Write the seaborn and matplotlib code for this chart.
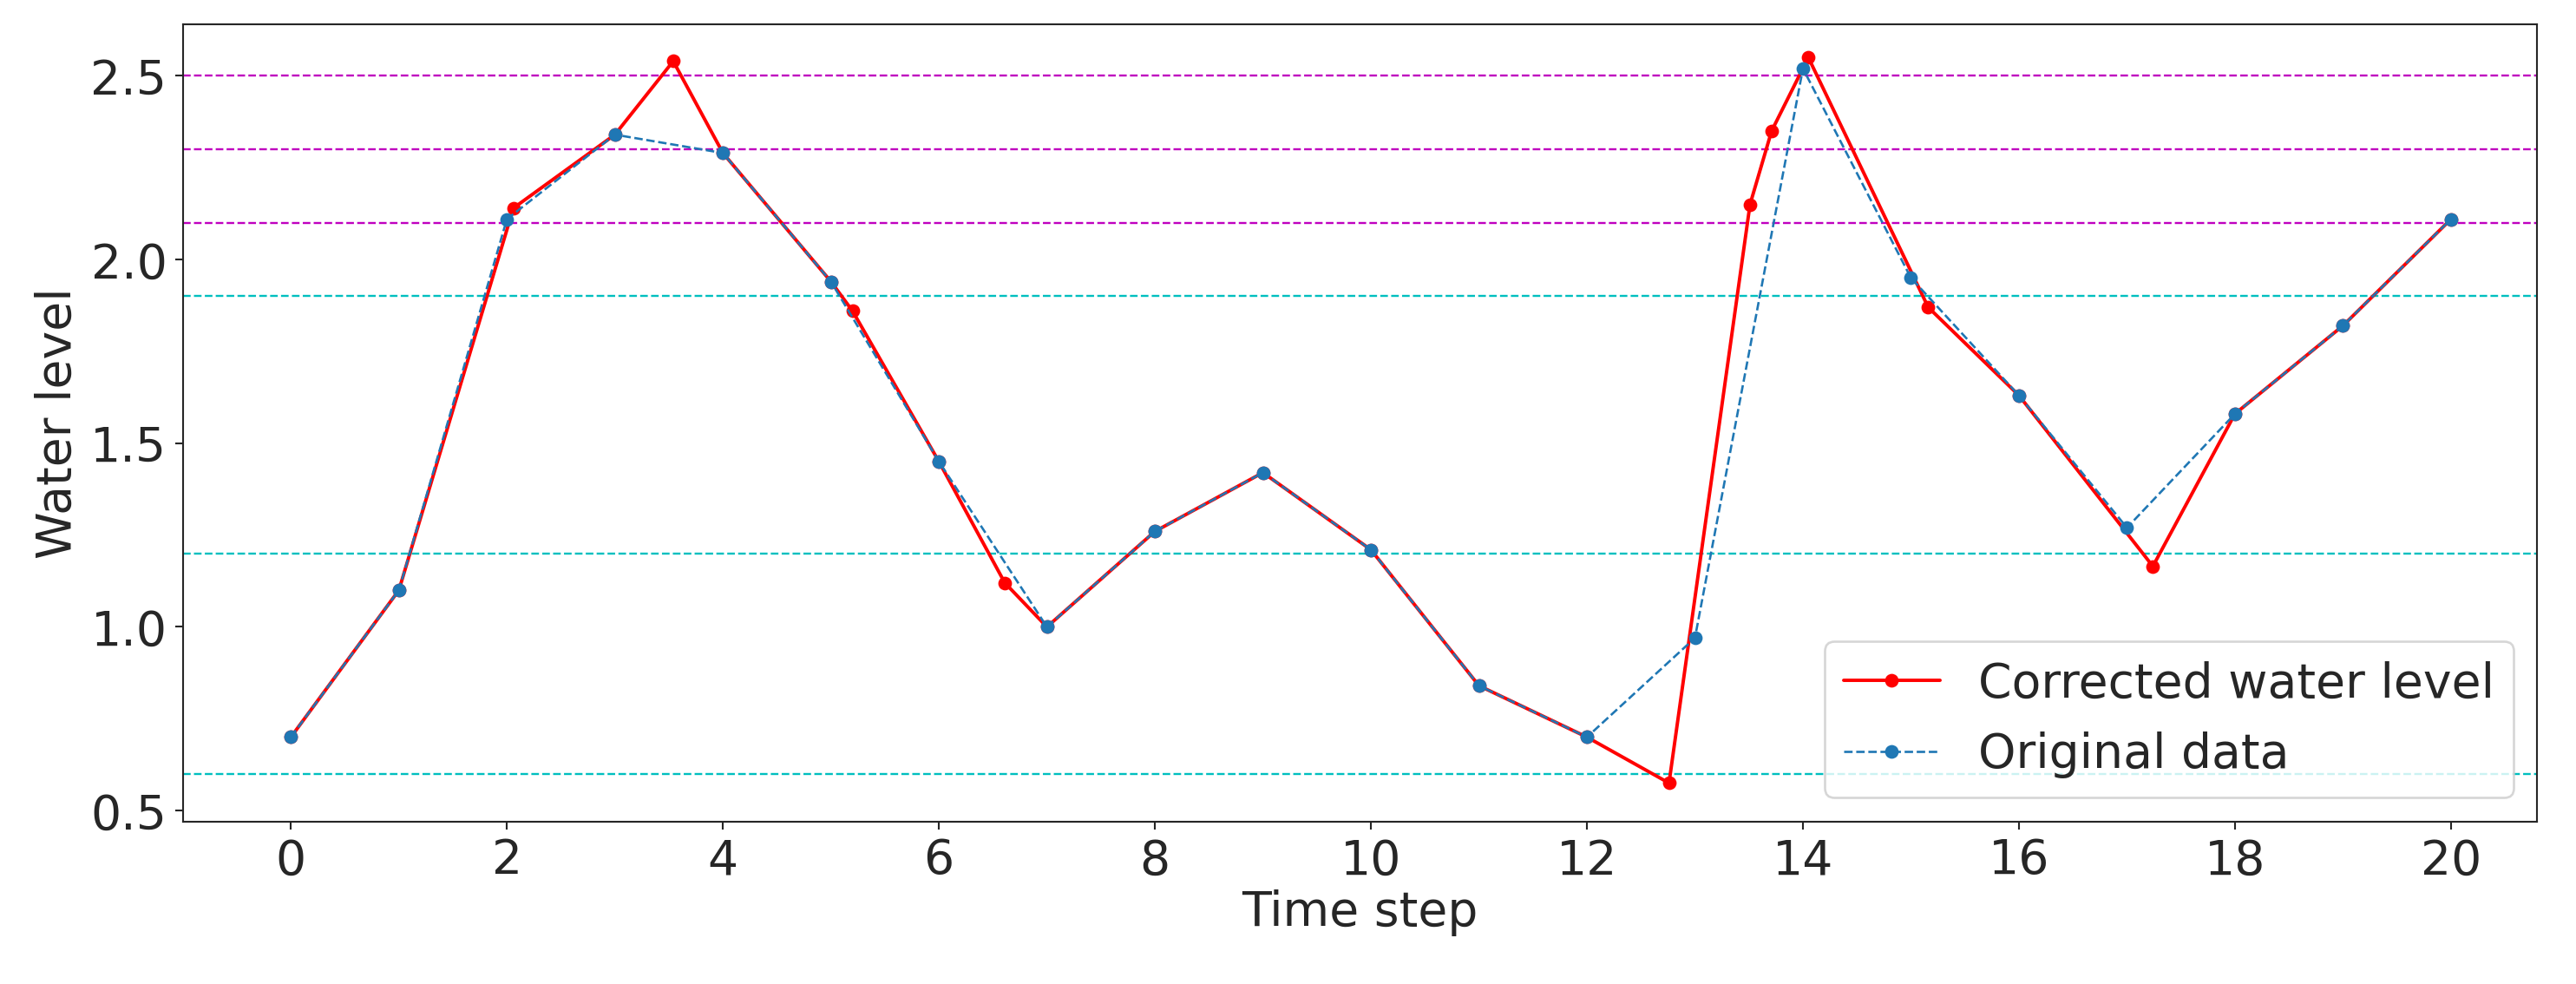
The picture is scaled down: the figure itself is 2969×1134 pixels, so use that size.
import matplotlib
matplotlib.use("Agg")
import matplotlib.pyplot as plt
import seaborn as sns
import pandas as pd

orig_x = list(range(21))
orig_y = [0.70, 1.10, 2.11, 2.34, 2.29, 1.94, 1.45, 1.00, 1.26, 1.42, 1.21,
          0.84, 0.70, 0.97, 2.52, 1.95, 1.63, 1.27, 1.58, 1.82, 2.11]
corr_x = [0, 1, 2.06, 3, 3.54, 4, 5, 5.2, 6, 6.61, 7, 8, 9, 10, 11, 12,
          12.76, 13.51, 13.71, 14.05, 15.16, 16, 17.24, 18, 19, 20]
corr_y = [0.70, 1.10, 2.14, 2.34, 2.54, 2.29, 1.94, 1.86, 1.45, 1.12, 1.00,
          1.26, 1.42, 1.21, 0.84, 0.70, 0.575, 2.15, 2.35, 2.55, 1.87, 1.63,
          1.165, 1.58, 1.82, 2.11]
magenta_levels = [2.5, 2.3, 2.1]
cyan_levels = [1.9, 1.2, 0.6]

sns.set_style("ticks")
plt.rcParams['font.family'] = ['DejaVu Sans']
fig, ax = plt.subplots(figsize=(15.68, 5.99), dpi=189.35)

for lv in magenta_levels:
    ax.axhline(lv, color='m', ls='--', lw=0.9)
for lv in cyan_levels:
    ax.axhline(lv, color='c', ls='--', lw=0.9)

dc = pd.DataFrame({'x': corr_x, 'y': corr_y})
do = pd.DataFrame({'x': orig_x, 'y': orig_y})
sns.lineplot(data=dc, x='x', y='y', ax=ax, color='red', marker='o', markersize=6,
             markeredgewidth=0, lw=1.5, label='Corrected water level', sort=False)
sns.lineplot(data=do, x='x', y='y', ax=ax, color='#1f77b4', marker='o', markersize=6,
             markeredgewidth=0, lw=1, ls='--', label='Original data', sort=False)

ax.set_xticks(range(0, 21, 2))
ax.set_yticks([0.5, 1.0, 1.5, 2.0, 2.5])
ax.set_xlim(-1, 20.8)
ax.set_ylim(0.47, 2.64)
ax.tick_params(labelsize=21)
ax.set_xlabel('Time step', fontsize=21, labelpad=2)
ax.set_ylabel('Water level', fontsize=21)
ax.legend(fontsize=21, loc='lower right')
fig.subplots_adjust(left=0.071, right=0.985, top=0.975, bottom=0.165)
fig.savefig('out.png')
